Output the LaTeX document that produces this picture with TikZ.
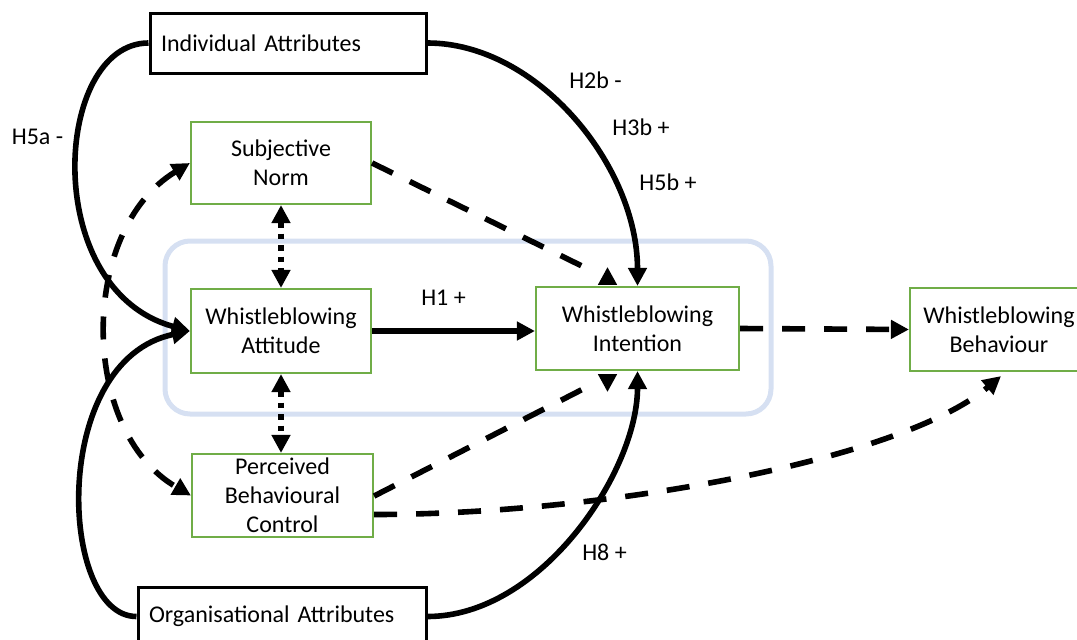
\documentclass[tikz,border=0pt]{standalone}
\usepackage{fontspec}
\setmainfont{Carlito}
\usetikzlibrary{arrows.meta,calc}
\definecolor{boxgreen}{HTML}{70AD47}
\definecolor{frameblue}{HTML}{D6E0F2}
\begin{document}
\begin{tikzpicture}[x=0.75pt,y=-0.75pt,
  every node/.style={font=\fontsize{18}{21.75}\selectfont},
  gbox/.style={draw=boxgreen,line width=1.6pt,fill=white,align=center,inner sep=0pt,minimum height=62.25pt},
  kbox/.style={draw=black,line width=2.25pt,fill=white,align=left,inner xsep=8.25pt,inner ysep=0pt},
  conn/.style={line width=4.2pt},
  tipA/.style={-{Triangle[length=13.5pt,width=13.5pt]}},
  tipB/.style={{Triangle[length=13.5pt,width=13.5pt]}-{Triangle[length=13.5pt,width=13.5pt]}},
  dashconn/.style={conn,dash pattern=on 17.25pt off 14.25pt},
  dotconn/.style={conn,dash pattern=on 4.2pt off 4.5pt},
  lbl/.style={inner sep=0pt}]
\useasboundingbox (0,0) rectangle (1077,639);
% frame
\draw[frameblue,line width=3.75pt,rounded corners=18.75pt] (165,241) rectangle (771,414);
% nodes
\node[kbox,text width=190.5pt,minimum height=45pt] (IA) at (288,43) {Individual Attributes};
\node[kbox,text width=199.5pt,minimum height=44.25pt] (OA) at (282,616.5) {Organisational Attributes};
\node[gbox,minimum width=135pt,minimum height=61.5pt] (SN) at (281,163) {Subjective\\Norm};
\node[gbox,minimum width=135pt,minimum height=63pt] (WA) at (281,331) {Whistleblowing\\Attitude};
\node[gbox,minimum width=135.75pt] (PBC) at (282.5,495.5) {Perceived\\Behavioural\\Control};
\node[gbox,minimum width=152.25pt] (WI) at (637.5,328.5) {Whistleblowing\\Intention};
\node[gbox,minimum width=133.5pt] (WB) at (999,329.5) {Whistleblowing\\Behaviour};
% labels
\node[lbl] (h5a) at (37.5,137) {H5a -};
\node[lbl] (h2b) at (595.5,80) {H2b -};
\node[lbl] (h3b) at (641,127) {H3b +};
\node[lbl] (h5b) at (668,182) {H5b +};
\node[lbl] (h1) at (443.5,298) {H1 +};
\node[lbl] (h8) at (604.5,552) {H8 +};
% coordinates
\coordinate (snend) at (588,269);
\coordinate (pbcend) at (587,387);
% connectors
\draw[dashconn,tipB] (SN.west) .. controls +(-111,67) and +(-112,-65) .. (PBC.west);
\draw[conn,tipA] (IA.west) .. controls +(-95,0) and +(-151,-41) .. (WA.west);
\draw[conn,tipA] (OA.west) .. controls +(-78,0) and +(-141,29) .. (WA.west);
\draw[conn,tipA] (IA.east) .. controls +(110,0) and +(0,-120) .. (WI.north);
\draw[conn,tipA] (OA.east) .. controls +(114,0) and +(0,100) .. (WI.south);
\draw[conn,tipA] (WA.east) -- (WA.east -| WI.west);
\draw[dashconn,tipA] (WI.east) -- (WB.west);
\draw[dotconn,tipB] (SN.south) -- (WA.north);
\draw[dotconn,tipB] (WA.south) -- (WA.south |- PBC.north);
\draw[dashconn] (SN.east) -- (snend);
\draw[conn,tipA] ($(WI.north)+(-30,-1)$) -- ++(0,-18);
\draw[dashconn] ([yshift=-0.4pt]PBC.east) -- (pbcend);
\draw[conn,tipA] ($(WI.south)+(-30,3)$) -- ++(0,18);
\draw[dashconn,tipA] ([yshift=-14.25pt]PBC.east) .. controls +(227,0) and +(-101,85) .. ($(WB.south)+(2,4)$);
\end{tikzpicture}
\end{document}
